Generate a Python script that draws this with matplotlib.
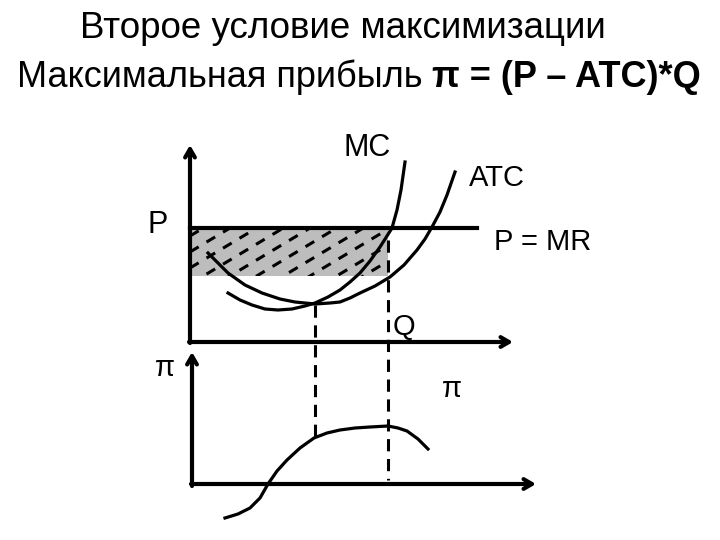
import numpy as np
import matplotlib
matplotlib.use("Agg")
import matplotlib.pyplot as plt

# diagram is drawn in picture coordinates (x right, y down)
title_1 = "Второе условие максимизации"
title_2a = "Максимальная прибыль "
title_2b = "π = (P – ATC)*Q"

mc_x = [228, 240, 252, 265, 278, 292, 305, 315, 328, 340, 350, 360, 370, 380, 387, 392, 397, 401, 405]
mc_y = [293, 300, 305, 309, 310, 309, 306, 303, 297, 290, 282, 273, 261, 247, 236, 228, 210, 190, 162]

atc_x = [208, 218, 228, 245, 262, 280, 295, 315, 330, 340, 350, 360, 375, 390, 404, 417, 425, 432, 440, 447, 455]
atc_y = [253, 263, 273, 285, 293, 299, 302, 304, 303, 302, 298, 293, 286, 277, 265, 250, 239, 227, 212, 195, 172]

profit_x = [225, 238, 250, 260, 268, 277, 287, 300, 314, 327, 340, 355, 370, 388, 398, 407, 418, 428]
profit_y = [518, 514, 508, 498, 484, 471, 460, 448, 438, 433, 430, 428, 427, 426, 428, 431, 439, 449]

price = 228
atc_at_q = 276
q_min_atc = 315
q_opt = 388

fig = plt.figure(figsize=(7.2, 5.4), dpi=100)
ax = fig.add_axes([0, 0, 1, 1])
ax.set_xlim(0, 720)
ax.set_ylim(540, 0)
ax.axis("off")

font = "Liberation Sans"
lw_axis = 3.0
lw_curve = 2.3

# profit rectangle with dashed hatching
rect = plt.Rectangle((190, price), q_opt - 190, atc_at_q - price, facecolor="#bdbdbd",
                     edgecolor="none", zorder=1)
ax.add_patch(rect)
for y0 in np.arange(236, 420, 16):
    xs = np.array([190, q_opt])
    ln, = ax.plot(xs, y0 - 0.6 * (xs - 190), color="black", lw=2.2, ls=(0, (3.3, 3.0)), zorder=2)
    ln.set_clip_path(rect)

# axes with arrows
def arrow(x0, y0, x1, y1):
    ax.annotate("", xy=(x1, y1), xytext=(x0, y0),
                arrowprops=dict(arrowstyle="->,head_length=0.6,head_width=0.35", lw=lw_axis,
                                color="black", shrinkA=0, shrinkB=0), zorder=5)

arrow(190, 343, 190, 145)
arrow(189, 342, 513, 342)
arrow(192, 486, 192, 352)
arrow(191, 484, 536, 484)

# price line
ax.plot([190, 477], [price, price], color="black", lw=lw_axis, zorder=4)

# curves
ax.plot(mc_x, mc_y, color="black", lw=lw_curve, solid_joinstyle="round", zorder=4)
ax.plot(atc_x, atc_y, color="black", lw=lw_curve, solid_joinstyle="round", zorder=4)
ax.plot(profit_x, profit_y, color="black", lw=lw_curve, solid_joinstyle="round", zorder=4)

# guide lines
ax.plot([q_min_atc, q_min_atc], [305, 438], color="black", lw=2.2, ls=(0, (4, 2.5)), zorder=3)
ax.plot([q_opt, q_opt], [240, 480], color="black", lw=2.2, ls=(0, (4, 2.5)), zorder=3)

# labels
ax.text(367, 148, "MC", fontsize=22, family=font, ha="center", va="center")
ax.text(497, 178, "ATC", fontsize=21, family=font, ha="center", va="center")
ax.text(158, 225, "P", fontsize=22, family=font, ha="center", va="center")
ax.text(543, 242, "P = MR", fontsize=21, family=font, ha="center", va="center")
ax.text(404, 327, "Q", fontsize=21, family=font, ha="center", va="center")
ax.text(165, 368, "π", fontsize=21, family=font, ha="center", va="center")
ax.text(452, 389, "π", fontsize=21, family=font, ha="center", va="center")

# titles
ax.text(343, 38, title_1, fontsize=26.5, family=font, ha="center", va="baseline")
t1 = ax.text(0, 87, title_2a, fontsize=26, family=font, ha="left", va="baseline")
t2 = ax.text(0, 87, title_2b, fontsize=26, family=font, fontweight="bold", ha="left", va="baseline")
fig.canvas.draw()
inv = ax.transData.inverted()
w1 = inv.transform((t1.get_window_extent().x1, 0))[0] - inv.transform((t1.get_window_extent().x0, 0))[0]
w2 = inv.transform((t2.get_window_extent().x1, 0))[0] - inv.transform((t2.get_window_extent().x0, 0))[0]
x_start = 359 - (w1 + w2) / 2
t1.set_x(x_start)
t2.set_x(x_start + w1)

fig.savefig("out.png", dpi=100)
